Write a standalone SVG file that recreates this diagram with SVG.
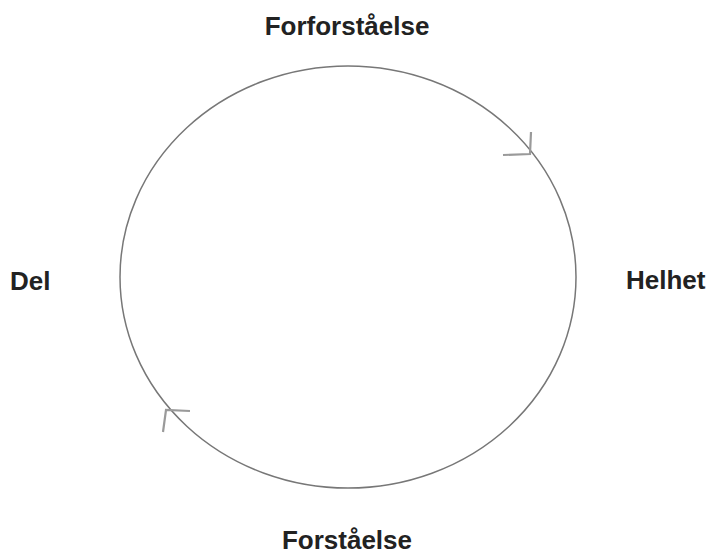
<svg xmlns="http://www.w3.org/2000/svg" width="715" height="556" viewBox="0 0 715 556">
<style>
.lbl{font-family:"Liberation Sans",Arial,sans-serif;font-weight:bold;font-size:26px;fill:#222}
.ring{fill:none;stroke:#777;stroke-width:1.5}
.head{fill:none;stroke:#9a9a9a;stroke-width:2.2}
</style>
<rect width="715" height="556" fill="#fff"/>
<g id="connectors">
<ellipse class="ring" cx="348" cy="277" rx="228" ry="211"/>
<path class="head" d="M531,132 L530,154 L503,155"/>
<path class="head" d="M190,411 L166,410 L163,432"/>
</g>
<g id="node-forforstaelse"><text class="lbl" x="347" y="35" text-anchor="middle">Forforståelse</text></g>
<g id="node-del"><text class="lbl" x="10" y="290">Del</text></g>
<g id="node-helhet"><text class="lbl" x="626" y="289">Helhet</text></g>
<g id="node-forstaelse"><text class="lbl" x="347" y="549" text-anchor="middle">Forståelse</text></g>
</svg>
